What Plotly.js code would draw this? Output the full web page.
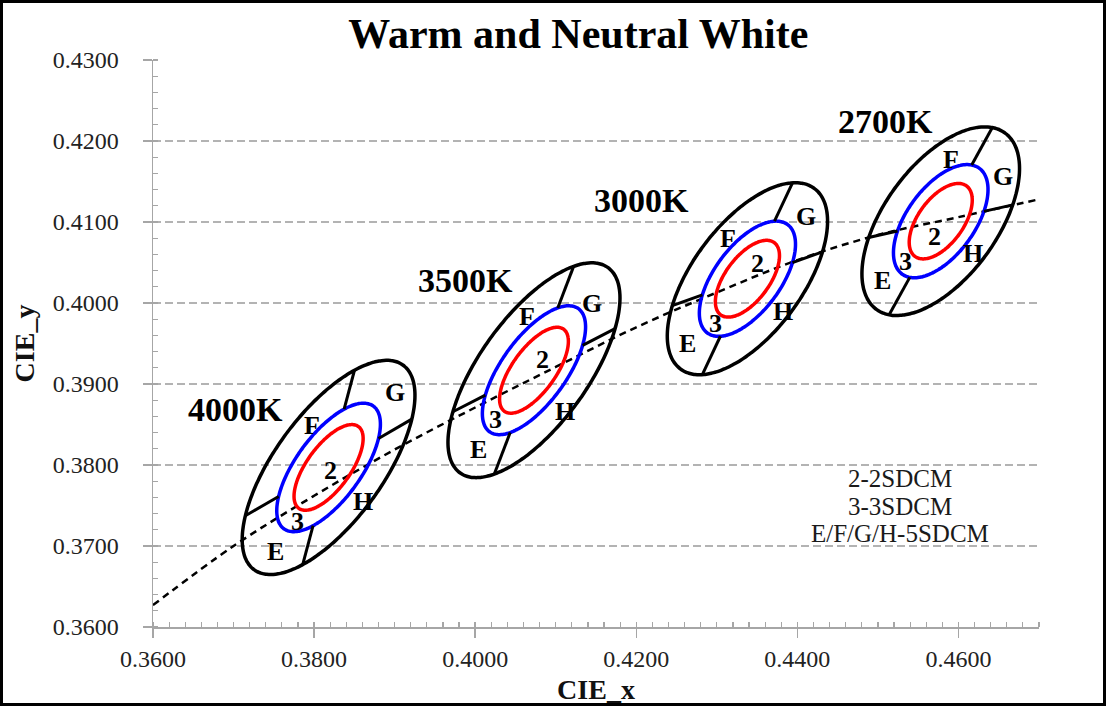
<!DOCTYPE html>
<html><head><meta charset="utf-8">
<script src="https://cdn.plot.ly/plotly-3.0.1.min.js"></script>
<style>
html,body{margin:0;padding:0;background:#fff;}
#wrap{position:relative;width:1106px;height:706px;}
#chart{position:absolute;left:0;top:0;width:1106px;height:706px;}
#frame{position:absolute;left:0;top:0;width:1106px;height:706px;border:3px solid #000;box-sizing:border-box;pointer-events:none;}
</style></head><body>
<div id="wrap"><div id="chart"></div><div id="frame"></div></div>
<script>
// ---------------- data ----------------
const cctNames   = ['4000K', '3500K', '3000K', '2700K'];
const centerX    = [0.3818, 0.4073, 0.4338, 0.4578];
const centerY    = [0.3797, 0.3917, 0.4030, 0.4101];
const oneStepA   = [0.00313, 0.00313, 0.00278, 0.0027];   // 1-step semi-major axis
const oneStepB   = [0.00134, 0.00134, 0.00136, 0.0014];   // 1-step semi-minor axis
const tiltDeg    = [53.7, 54.0, 53.2, 53.7];
const stepLevels = [2, 3, 5];                              // red, blue, black
const alongDeg   = [30.0, 27.0, 19.6, 12.7];               // E/H | F/G divider direction
const acrossDeg  = [75.0, 69.0, 64.7, 61.0];               // E/F | G/H divider direction

const locusX = [0.360, 0.370, 0.380, 0.390, 0.400, 0.410, 0.420, 0.430, 0.440, 0.450, 0.460, 0.470];
const locusY = [0.3627, 0.3700, 0.3762, 0.3819, 0.3871, 0.3921, 0.3970, 0.4013, 0.4053, 0.4084, 0.4106, 0.4128];

const cctLabelX = [0.3702, 0.3988, 0.4206, 0.4509];
const cctLabelY = [0.3868, 0.4028, 0.4127, 0.4224];

const zoneNames  = ['E', 'F', 'G', 'H', '2', '3'];
const zoneX = [
  [0.3752, 0.3797, 0.3900, 0.3861, 0.3820, 0.3779],
  [0.4004, 0.4064, 0.4145, 0.4112, 0.4083, 0.4025],
  [0.4264, 0.4314, 0.4411, 0.4382, 0.4351, 0.4298],
  [0.4506, 0.4591, 0.4655, 0.4618, 0.4570, 0.4534]
];
const zoneY = [
  [0.3693, 0.3849, 0.3889, 0.3755, 0.3793, 0.3730],
  [0.3819, 0.3983, 0.4000, 0.3866, 0.3930, 0.3856],
  [0.3950, 0.4080, 0.4107, 0.3989, 0.4049, 0.3975],
  [0.4028, 0.4177, 0.4156, 0.4061, 0.4082, 0.4051]
];

const noteLines = ['2-2SDCM', '3-3SDCM', 'E/F/G/H-5SDCM'];
const noteX = 0.4527;
const noteY = [0.3783, 0.3749, 0.3716];

const xTicks = [0.36, 0.38, 0.40, 0.42, 0.44, 0.46];
const yTicks = [0.36, 0.37, 0.38, 0.39, 0.40, 0.41, 0.42, 0.43];

// ---------------- drawing ----------------
const SERIF = '"Liberation Serif", "Times New Roman", serif';
const stepColors = ['#ff0000', '#0000ff', '#000000'];
const traces = [];

traces.push({
  x: locusX, y: locusY, mode: 'lines', type: 'scatter', hoverinfo: 'skip',
  line: {color: '#000', width: 2.5, dash: '7px,5px', shape: 'spline'}
});

function ellipsePts(i, n) {
  const A = oneStepA[i] * n, B = oneStepB[i] * n, th = tiltDeg[i] * Math.PI / 180;
  const xs = [], ys = [];
  for (let k = 0; k <= 180; k++) {
    const t = 2 * Math.PI * k / 180;
    xs.push(centerX[i] + A * Math.cos(t) * Math.cos(th) - B * Math.sin(t) * Math.sin(th));
    ys.push(centerY[i] + A * Math.cos(t) * Math.sin(th) + B * Math.sin(t) * Math.cos(th));
  }
  return {xs, ys};
}
function radiusAt(i, n, phiDeg) {
  const A = oneStepA[i] * n, B = oneStepB[i] * n;
  const d = (phiDeg - tiltDeg[i]) * Math.PI / 180;
  return 1 / Math.sqrt(Math.pow(Math.cos(d) / A, 2) + Math.pow(Math.sin(d) / B, 2));
}

for (let i = 0; i < cctNames.length; i++) {
  stepLevels.forEach((n, j) => {
    const p = ellipsePts(i, n);
    traces.push({x: p.xs, y: p.ys, mode: 'lines', type: 'scatter', hoverinfo: 'skip',
      line: {color: stepColors[j], width: 3.5, shape: 'spline'}});
  });
  const dx = [], dy = [];
  [alongDeg[i], acrossDeg[i]].forEach(ang => {
    [ang, ang + 180].forEach(a => {
      const r1 = radiusAt(i, 3, a), r2 = radiusAt(i, 5, a);
      const c = Math.cos(a * Math.PI / 180), s = Math.sin(a * Math.PI / 180);
      dx.push(centerX[i] + r1 * c, centerX[i] + r2 * c, null);
      dy.push(centerY[i] + r1 * s, centerY[i] + r2 * s, null);
    });
  });
  traces.push({x: dx, y: dy, mode: 'lines', type: 'scatter', hoverinfo: 'skip',
    line: {color: '#000', width: 3}});
}
// helper trace for overlay axes (inner part of major ticks)
traces.push({x: [0.36], y: [0.36], xaxis: 'x2', yaxis: 'y2', mode: 'markers',
  marker: {opacity: 0}, hoverinfo: 'skip'});

const annotations = [];
cctNames.forEach((name, i) => {
  annotations.push({x: cctLabelX[i], y: cctLabelY[i], text: name, showarrow: false,
    xanchor: 'center', yanchor: 'middle', font: {family: SERIF, size: 34, color: '#000', weight: 700}});
  zoneNames.forEach((z, k) => {
    annotations.push({x: zoneX[i][k], y: zoneY[i][k], text: z, showarrow: false,
      xanchor: 'center', yanchor: 'middle', font: {family: SERIF, size: 26, color: '#000', weight: 700}});
  });
});
noteLines.forEach((t, k) => {
  annotations.push({x: noteX, y: noteY[k], text: t, showarrow: false,
    xanchor: 'center', yanchor: 'middle', font: {family: SERIF, size: 25, color: '#1a1a1a'}});
});

const axisGray = '#a6a6a6';
const layout = {
  width: 1106, height: 706,
  margin: {l: 152.5, r: 66.5, t: 60, b: 79, pad: 0},
  paper_bgcolor: '#fff', plot_bgcolor: 'rgba(0,0,0,0)',
  showlegend: false,
  title: {text: 'Warm and Neutral White', xref: 'container', x: 0.5229, xanchor: 'center',
    yref: 'container', y: 0.9533, yanchor: 'middle',
    font: {family: SERIF, size: 42, color: '#000', weight: 700}},
  xaxis: {
    range: [0.36, 0.47], tickvals: xTicks, tickformat: '.4f',
    showline: true, linecolor: axisGray, linewidth: 1.5, showgrid: false, zeroline: false,
    ticks: 'outside', ticklen: 9, tickcolor: axisGray, tickwidth: 1.5,
    minor: {dtick: 0.002, tick0: 0.36, ticks: 'inside', ticklen: 5, tickcolor: axisGray, tickwidth: 1.2, showgrid: false},
    tickfont: {family: SERIF, size: 24, color: '#222'}, ticklabelstandoff: 1,
    title: {text: 'CIE_x', standoff: 8, font: {family: SERIF, size: 28, color: '#111', weight: 700}},
    fixedrange: true
  },
  yaxis: {
    range: [0.36, 0.43], tickvals: yTicks, tickformat: '.4f',
    showline: true, linecolor: axisGray, linewidth: 1.5, zeroline: false,
    showgrid: true, gridcolor: '#b3b3b3', gridwidth: 1.5, griddash: '8px,4px',
    ticks: 'outside', ticklen: 9, tickcolor: axisGray, tickwidth: 1.5,
    minor: {dtick: 0.002, tick0: 0.36, ticks: 'inside', ticklen: 5, tickcolor: axisGray, tickwidth: 1.2, showgrid: false},
    tickfont: {family: SERIF, size: 24, color: '#222'}, ticklabelstandoff: 19,
    title: {text: 'CIE_y', standoff: 10, font: {family: SERIF, size: 28, color: '#111', weight: 700}},
    fixedrange: true
  },
  xaxis2: {overlaying: 'x', anchor: 'y2', range: [0.36, 0.47], tickvals: xTicks,
    showticklabels: false, showgrid: false, zeroline: false, showline: false,
    ticks: 'inside', ticklen: 5, tickcolor: axisGray, tickwidth: 1.5},
  yaxis2: {overlaying: 'y', anchor: 'x2', range: [0.36, 0.43], tickvals: yTicks,
    showticklabels: false, showgrid: false, zeroline: false, showline: false,
    ticks: 'inside', ticklen: 5, tickcolor: axisGray, tickwidth: 1.5},
  annotations: annotations
};

Plotly.newPlot('chart', traces, layout, {displayModeBar: false, staticPlot: true});
</script>
</body></html>
